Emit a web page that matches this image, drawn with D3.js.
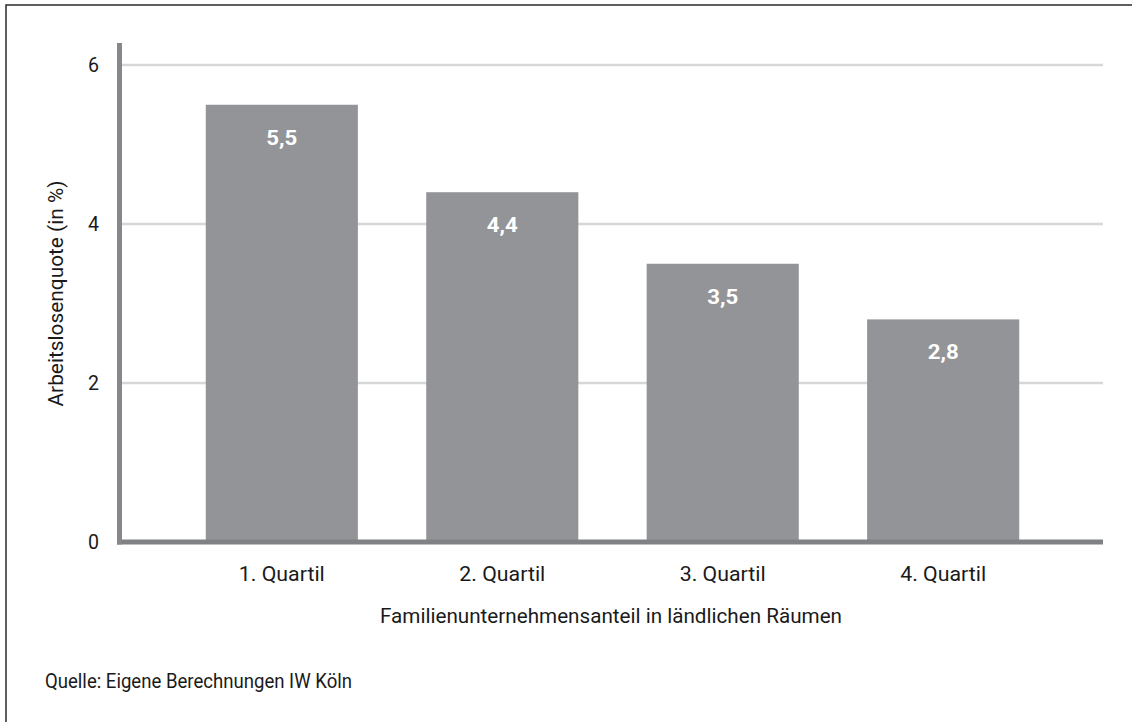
<!DOCTYPE html>
<html>
<head>
<meta charset="utf-8">
<script src="https://cdn.jsdelivr.net/npm/d3@7"></script>
<style>
  html, body { margin: 0; padding: 0; background: #fff; }
  svg { display: block; }
  text { font-family: Roboto, "Noto Sans", sans-serif; fill: #1a1a1a; }
</style>
</head>
<body>
<script>
const categories = ["1. Quartil", "2. Quartil", "3. Quartil", "4. Quartil"];
const values = [5.5, 4.4, 3.5, 2.8];
const yTicks = [0, 2, 4, 6];
const yTitle = "Arbeitslosenquote (in %)";
const xTitle = "Familienunternehmensanteil in ländlichen Räumen";
const sourceText = "Quelle: Eigene Berechnungen IW Köln";

const W = 1132, H = 722;
const svg = d3.select("body").append("svg").attr("width", W).attr("height", H);

// frame (only top and left edges visible in the reference)
svg.append("path").attr("d", `M6,${H + 5}V5H${W + 5}`)
  .attr("fill", "none").attr("stroke", "#2a2a2a").attr("stroke-width", 1.5);

const plot = { left: 122, right: 1103, top: 43, bottom: 542 };

const x = d3.scaleBand().domain(categories)
  .range([plot.left, plot.right]).paddingInner(0.31).paddingOuter(0.38);
const y = d3.scaleLinear().domain([0, 6]).range([plot.bottom, 65]);

const de = d3.formatLocale({ decimal: ",", thousands: ".", grouping: [3], currency: ["", "€"] });
const fmt = de.format(".1f");

// gridlines
svg.append("g").selectAll("line").data(yTicks.filter(d => d > 0)).join("line")
  .attr("x1", plot.left).attr("x2", plot.right)
  .attr("y1", d => y(d)).attr("y2", d => y(d))
  .attr("stroke", "#d6d7d8").attr("stroke-width", 2.7);

// y tick labels
svg.append("g").selectAll("text").data(yTicks).join("text")
  .attr("x", 99).attr("y", d => y(d)).attr("dy", "0.36em")
  .attr("text-anchor", "end").attr("font-size", 20)
  .attr("textLength", 11).attr("lengthAdjust", "spacingAndGlyphs")
  .text(d => d);

// bars
svg.append("g").selectAll("rect").data(values).join("rect")
  .attr("x", (d, i) => x(categories[i]))
  .attr("width", x.bandwidth())
  .attr("y", d => y(d))
  .attr("height", d => y(0) - y(d))
  .attr("fill", "#939497");

// value labels
svg.append("g").selectAll("text").data(values).join("text")
  .attr("x", (d, i) => x(categories[i]) + x.bandwidth() / 2)
  .attr("y", d => y(d) + 40)
  .attr("text-anchor", "middle").attr("font-size", 20).attr("font-weight", "bold")
  .attr("textLength", 31).attr("lengthAdjust", "spacingAndGlyphs")
  .style("fill", "#ffffff")
  .text(d => fmt(d));

// baseline
svg.append("line")
  .attr("x1", 117).attr("x2", plot.right)
  .attr("y1", y(0)).attr("y2", y(0))
  .attr("stroke", "#808184").attr("stroke-width", 5);

// y axis line
svg.append("line")
  .attr("x1", 119.5).attr("x2", 119.5)
  .attr("y1", plot.top).attr("y2", y(0) + 2.5)
  .attr("stroke", "#86878a").attr("stroke-width", 5);

// x tick labels
svg.append("g").selectAll("text").data(categories).join("text")
  .attr("x", d => x(d) + x.bandwidth() / 2)
  .attr("y", 581)
  .attr("text-anchor", "middle").attr("font-size", 20)
  .attr("textLength", 86).attr("lengthAdjust", "spacingAndGlyphs")
  .text(d => d);

// x title
svg.append("text")
  .attr("x", 611).attr("y", 623)
  .attr("text-anchor", "middle").attr("font-size", 20)
  .attr("textLength", 462).attr("lengthAdjust", "spacingAndGlyphs")
  .text(xTitle);

// y title
svg.append("text")
  .attr("transform", `translate(63,${(plot.top + y(0)) / 2 + 1}) rotate(-90)`)
  .attr("text-anchor", "middle").attr("font-size", 20)
  .attr("textLength", 226).attr("lengthAdjust", "spacingAndGlyphs")
  .text(yTitle);

// source
svg.append("text")
  .attr("x", 45).attr("y", 688)
  .attr("font-size", 20)
  .attr("textLength", 307).attr("lengthAdjust", "spacingAndGlyphs")
  .text(sourceText);
</script>
</body>
</html>
